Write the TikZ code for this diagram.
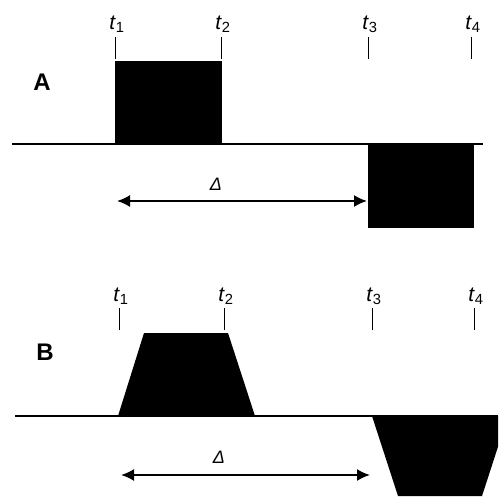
\documentclass[tikz,border=0pt]{standalone}
\usepackage{fontspec}
\setmainfont{Liberation Sans}
\usetikzlibrary{arrows.meta}

\begin{document}
\begin{tikzpicture}[
            x=1pt, y=-1pt,
            axis/.style={line width=1.2pt},
            tickmark/.style={line width=0.9pt},
            tlabel/.style={font=\fontsize{21}{24}\selectfont, inner sep=0pt, anchor=south},
            panel/.style={font=\fontsize{24}{27}\selectfont\bfseries},
            delta/.style={font=\fontsize{18}{20}\selectfont\itshape, inner sep=1pt, anchor=south},
            arrow/.style={{Latex[length=13pt,width=12pt]}-{Latex[length=13pt,width=12pt]}, line width=1.8pt}
        ]
            \clip (0,0) rectangle (498,500);
            % panel A: rectangular pulses
            \node[panel] (labA) at (42,82) {A};
            \draw[axis] (12,144) coordinate (axA-l) -- (483,144) coordinate (axA-r);
            \fill (115,61) rectangle (222,144);
            \fill (368,144) rectangle (474,228);
            \foreach \n/\x in {1/115, 2/221, 3/368, 4/471} {
                \coordinate (tA\n-top) at (\x,37);
                \coordinate (tA\n-bot) at (\x,59);
                \draw[tickmark] (tA\n-top) -- (tA\n-bot);
                \node[tlabel] (tA\n) at ([xshift=2pt,yshift=4pt]tA\n-top) {\textit{t}\textsubscript{\n}};
            }
            \coordinate (dA-l) at (117,201);
            \coordinate (dA-r) at (367,201);
            \draw[arrow] (dA-l) -- (dA-r);
            \node[delta] (dA) at (216,192) {Δ};
            % panel B: trapezoidal pulses
            \node[panel] (labB) at (45,352) {B};
            \draw[axis] (15,416) coordinate (axB-l) -- (498,416) coordinate (axB-r);
            \fill (118,416) -- (144,333) -- (228,333) -- (255,416) -- cycle;
            \fill (372,416) -- (398,496) -- (482,496) -- (508,416) -- cycle;
            \foreach \n/\x in {1/119, 2/224, 3/372, 4/474} {
                \coordinate (tB\n-top) at (\x,308);
                \coordinate (tB\n-bot) at (\x,330);
                \draw[tickmark] (tB\n-top) -- (tB\n-bot);
                \node[tlabel] (tB\n) at ([xshift=2pt,yshift=3pt]tB\n-top) {\textit{t}\textsubscript{\n}};
            }
            \coordinate (dB-l) at (121,475);
            \coordinate (dB-r) at (370,475);
            \draw[arrow] (dB-l) -- (dB-r);
            \node[delta] (dB) at (219,465) {Δ};
        \end{tikzpicture}
\end{document}
